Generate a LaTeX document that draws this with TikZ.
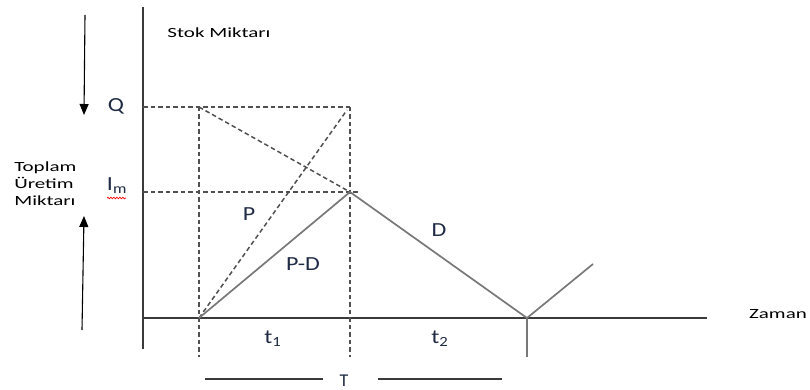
\documentclass[tikz,border=0pt]{standalone}
\usepackage{fontspec}
\setmainfont{Carlito}
\usepackage{tikz}
\usetikzlibrary{arrows.meta, decorations.pathmorphing}
\definecolor{axisgray}{HTML}{3A3A3A}
\definecolor{linegray}{HTML}{787878}
\definecolor{dashgray}{HTML}{505050}
\definecolor{labelblue}{HTML}{1F2A44}

\tikzset{
  axisline/.style={line width=1.5pt, axisgray},
  stockline/.style={line width=1.7pt, linegray},
  guide/.style={line width=1.5pt, dashgray, dash pattern=on 4.5pt off 3pt},
  prodarrow/.style={line width=1.1pt, black, -{Triangle[length=11pt, width=9pt]}},
  smalltxt/.style={font=\fontsize{14}{17}\selectfont, text=black, xscale=1.5, transform shape, inner sep=0pt},
  bigtxt/.style={font=\fontsize{20}{24}\selectfont, text=labelblue, xscale=1.2, transform shape, inner sep=0pt}
}

\begin{document}
\begin{tikzpicture}[x=1pt, y=-1pt]
\useasboundingbox (0,0) rectangle (810,390);

% Axes
\draw[axisline] (143,7) -- (143,349);
\draw[axisline] (143,318) -- (707,318);
\node[smalltxt] (stok) at (219,33) {Stok Miktarı};
\node[smalltxt] (zaman) at (778,314) {Zaman};

% Key points
\coordinate (start) at (199,318);
\coordinate (peak) at (350,192);
\coordinate (qtop) at (199,107);
\coordinate (qright) at (350,107);
\coordinate (empty) at (527,318);
\coordinate (next) at (593,264);

% Dashed guides for Q and I_m
\draw[guide] (143,107) -- (qright);
\draw[guide] (143,192) -- (360,192);
\draw[guide] (qtop) -- (199,357);
\draw[guide] (qright) -- (350,357);
\draw[guide] (qtop) -- (peak);
\draw[guide] (start) -- (347,110);

% Stock level: build-up, depletion, next cycle
\draw[stockline] (start) -- (peak) -- (empty) -- (next);
\draw[stockline] (empty) -- (527,357);

% Line labels
\node[bigtxt] (lblP) at (249,214) {P};
\node[bigtxt] (lblPD) at (303,264) {P-D};
\node[bigtxt] (lblD) at (439,230) {D};

% Level labels on the stock axis
\node[bigtxt] (lblQ) at (116,106) {Q};
\node[bigtxt] (lblIm) at (117,186) {I\textsubscript{m}};
\draw[red, line width=0.7pt, decorate, decoration={snake, segment length=3pt, amplitude=0.8pt}]
  (107,198) -- (126,198);

% Total production quantity
\node[smalltxt, align=left, anchor=west] (toplam) at (14,184) {Toplam\\Üretim\\Miktarı};
\coordinate (downtop) at (85,15);
\coordinate (downtip) at (84,115);
\coordinate (upfoot) at (82,330);
\coordinate (uptip) at (84,216);
\draw[prodarrow] (downtop) -- (downtip);
\draw[prodarrow] (upfoot) -- (uptip);

% Time intervals
\node[bigtxt] (lblt1) at (273,339) {t\textsubscript{1}};
\node[bigtxt] (lblt2) at (440,339) {t\textsubscript{2}};
\node[font=\fontsize{18}{20}\selectfont, text=labelblue, inner sep=0pt] (lblT) at (344,381) {T};
\draw[axisline] (205,379) -- (323,379);
\draw[axisline] (378,379) -- (502,379);

\end{tikzpicture}
\end{document}
